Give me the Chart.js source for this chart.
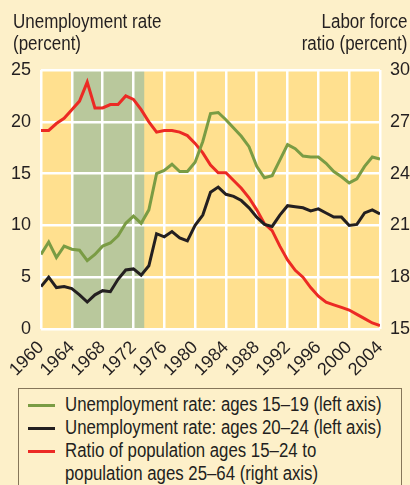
<!DOCTYPE html>
<html>
<head>
<meta charset="utf-8">
<script src="https://cdn.jsdelivr.net/npm/chart.js@4"></script>
<style>
  body { margin: 0; background: #fdf0c9; }
  #wrap { position: relative; width: 410px; height: 485px; overflow: hidden; background: #fdf0c9;
          font-family: "Liberation Sans", Arial, sans-serif; color: #231f20; }
  #chart { position: absolute; left: 0; top: 0; }
  .ttl { position: absolute; font-size: 20px; line-height: 22px; white-space: nowrap; }
  #legend { position: absolute; left: 18px; top: 388px; width: 384px; height: 110px;
            border: 1.5px solid #86765a; box-sizing: border-box; font-size: 20px; line-height: 23px; }
  .row { position: absolute; left: 46px; white-space: nowrap; transform: scaleX(0.84); transform-origin: left top; }
  .mk { position: absolute; left: 9px; width: 27px; height: 3px; }
</style>
</head>
<body>
<div id="wrap">
  <canvas id="chart" width="410" height="385"></canvas>
  <div class="ttl" style="left:13px; top:10px; transform:scaleX(0.85); transform-origin:left top;">Unemployment rate<br>(percent)</div>
  <div class="ttl" style="right:3px; top:10px; text-align:right; transform:scaleX(0.85); transform-origin:right top;">Labor force<br>ratio (percent)</div>
  <div id="legend">
    <div class="mk" style="top:15px; background:#7a9c44;"></div>
    <div class="row" style="top:4px;">Unemployment rate: ages 15–19 (left axis)</div>
    <div class="mk" style="top:38px; background:#231f20;"></div>
    <div class="row" style="top:27px;">Unemployment rate: ages 20–24 (left axis)</div>
    <div class="mk" style="top:61px; background:#ec2a24;"></div>
    <div class="row" style="top:50px;">Ratio of population ages 15–24 to<br>population ages 25–64 (right axis)</div>
  </div>
</div>
<script>
const years = [1960,1961,1962,1963,1964,1965,1966,1967,1968,1969,
               1970,1971,1972,1973,1974,1975,1976,1977,1978,1979,
               1980,1981,1982,1983,1984,1985,1986,1987,1988,1989,
               1990,1991,1992,1993,1994,1995,1996,1997,1998,1999,
               2000,2001,2002,2003,2004];
const teens = [7.2,8.4,6.9,8.0,7.7,7.6,6.6,7.2,8.0,8.3,
               9.0,10.2,10.9,10.2,11.5,15.0,15.3,15.9,15.2,15.2,
               16.1,18.1,20.8,20.9,20.2,19.4,18.6,17.6,15.7,14.6,
               14.8,16.3,17.8,17.4,16.7,16.6,16.6,16.0,15.2,14.7,
               14.1,14.5,15.7,16.6,16.4];
const twenties = [4.1,5.0,4.0,4.1,3.9,3.3,2.6,3.3,3.7,3.6,
                  4.8,5.7,5.8,5.2,6.1,9.2,8.9,9.4,8.8,8.5,
                  10.0,11.0,13.2,13.7,13.0,12.8,12.4,11.7,10.8,10.1,
                  9.9,11.0,11.9,11.8,11.7,11.4,11.6,11.2,10.8,10.8,
                  10.0,10.1,11.2,11.5,11.1];
const ratio = [26.5,26.5,26.9,27.2,27.7,28.2,29.3,27.8,27.8,28.0,
               28.0,28.5,28.3,27.7,27.0,26.4,26.5,26.5,26.4,26.2,
               25.75,25.2,24.5,24.05,24.05,23.6,23.15,22.6,21.9,21.1,
               20.7,19.8,19.0,18.4,18.0,17.4,16.9,16.55,16.4,16.25,
               16.1,15.85,15.6,15.35,15.2];
const xTicks = [1960,1964,1968,1972,1976,1980,1984,1988,1992,1996,2000,2004];
const leftTicks = [0, 5, 10, 15, 20, 25];
const rightTicks = [15, 18, 21, 24, 27, 30];
const bandStart = 1964, bandEnd = 1973.4;

const pts = arr => arr.map((v, i) => ({ x: years[i], y: v }));

const plotBg = {
  id: 'plotBg',
  beforeDraw(chart) {
    const { ctx, chartArea: a, scales } = chart;
    ctx.save();
    ctx.fillStyle = '#ffe08f';
    ctx.fillRect(a.left, a.top, a.right - a.left, a.bottom - a.top);
    const x0 = scales.x.getPixelForValue(bandStart);
    const x1 = scales.x.getPixelForValue(bandEnd);
    ctx.fillStyle = '#b9c89c';
    ctx.fillRect(x0, a.top, x1 - x0, a.bottom - a.top);
    ctx.restore();
  }
};

const tickFont = { family: '"Liberation Sans", Arial, sans-serif', size: 18 };

new Chart(document.getElementById('chart').getContext('2d'), {
  type: 'line',
  data: {
    datasets: [
      { label: 'Unemployment rate: ages 15–19 (left axis)', data: pts(teens), yAxisID: 'y',
        borderColor: '#7a9c44', borderWidth: 3, pointRadius: 0, tension: 0 },
      { label: 'Unemployment rate: ages 20–24 (left axis)', data: pts(twenties), yAxisID: 'y',
        borderColor: '#231f20', borderWidth: 3, pointRadius: 0, tension: 0 },
      { label: 'Ratio of population ages 15–24 to population ages 25–64 (right axis)', data: pts(ratio), yAxisID: 'y1',
        borderColor: '#ec2a24', borderWidth: 3, pointRadius: 0, tension: 0 }
    ]
  },
  options: {
    responsive: false,
    animation: false,
    layout: { padding: { top: 70 } },
    plugins: { legend: { display: false }, tooltip: { enabled: false } },
    scales: {
      x: {
        type: 'linear', min: 1960, max: 2004,
        afterBuildTicks: s => { s.ticks = xTicks.map(v => ({ value: v })); },
        ticks: { autoSkip: false, maxRotation: 45, minRotation: 45, padding: 8, color: '#231f20', font: tickFont,
                 callback: v => String(v) },
        grid: { color: '#ffffff', lineWidth: 2.5, drawTicks: false },
        border: { display: false },
        afterFit: s => { s.height = 56; }
      },
      y: {
        position: 'left', min: 0, max: 25,
        afterBuildTicks: s => { s.ticks = leftTicks.map(v => ({ value: v })); },
        ticks: { padding: 10, color: '#231f20', font: tickFont },
        grid: { color: '#ffffff', lineWidth: 2.5, drawTicks: false },
        border: { display: false },
        afterFit: s => { s.width = 41; }
      },
      y1: {
        position: 'right', min: 15, max: 30,
        afterBuildTicks: s => { s.ticks = rightTicks.map(v => ({ value: v })); },
        ticks: { padding: 10, color: '#231f20', font: tickFont },
        grid: { display: false, drawTicks: false },
        border: { display: false },
        afterFit: s => { s.width = 30; }
      }
    }
  },
  plugins: [plotBg]
});
</script>
</body>
</html>
